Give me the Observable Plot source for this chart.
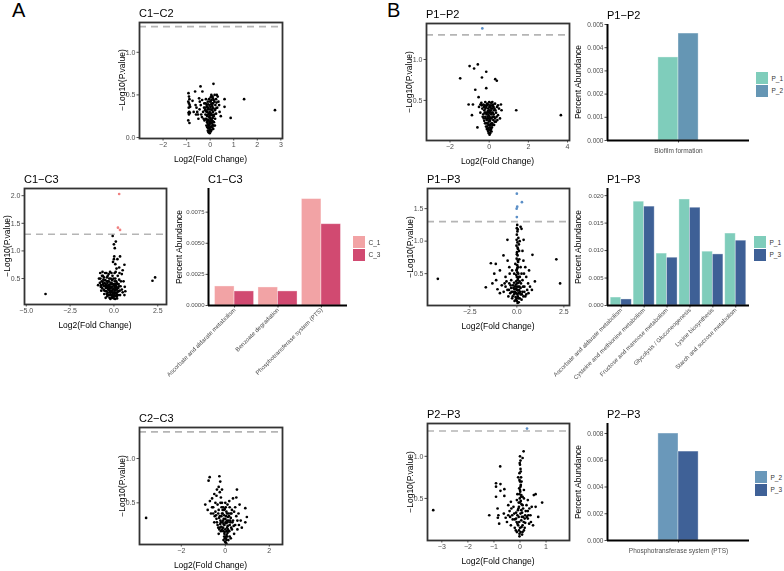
<!DOCTYPE html>
<html><head><meta charset="utf-8">
<script src="https://cdn.jsdelivr.net/npm/d3@7"></script>
<script src="https://cdn.jsdelivr.net/npm/@observablehq/plot@0.6"></script>
<style>
body{margin:0;background:#fff;}
#root{position:relative;width:784px;height:571px;overflow:hidden;background:#fff;font-family:"Liberation Sans",Arial,sans-serif;}
.t{position:absolute;white-space:nowrap;line-height:1;}
#root svg{position:absolute;will-change:transform;}
#root svg text{-webkit-font-smoothing:antialiased;}
</style></head><body><div id="root"></div>
<script>
// ---------- DATA ----------
const sigLine = 1.30103;
const c1c2Points = [[-0.92,0.52],[-0.9,0.48],[-0.88,0.45],[-0.93,0.42],[-0.9,0.4],[-0.87,0.38],[-0.91,0.35],[-0.89,0.3],[-0.92,0.29],[-0.86,0.29],[-0.9,0.27],[-0.93,0.2],[-0.88,0.17],[-0.85,0.36],
[-0.64,0.54],[-0.41,0.6],[-0.33,0.54],[-0.34,0.44],[-0.55,0.3],[-0.6,0.27],[-0.45,0.33],[-0.5,0.22],[-0.4,0.38],[-0.3,0.3],[-0.25,0.4],[-0.38,0.27],[-0.28,0.22],[-0.62,0.38],[-0.47,0.46],[-0.2,0.35],[-0.18,0.45],
[-0.15,0.3],[-0.12,0.25],[-0.1,0.2],[-0.08,0.15],[-0.05,0.12],[-0.1,0.08],[-0.07,0.06],[-0.02,0.1],[0,0.18],[0.02,0.22],[0.05,0.28],[0.03,0.33],[-0.03,0.38],[0,0.42],[0.02,0.47],[0.05,0.5],[-0.05,0.45],[0.08,0.4],[0.1,0.35],[0.12,0.3],[0.15,0.25],[0.08,0.2],[0.1,0.15],[0.04,0.13],[-0.13,0.18],[-0.18,0.22],[-0.2,0.27],[-0.22,0.32],[-0.15,0.38],[-0.1,0.42],[-0.08,0.35],[-0.06,0.28],[-0.04,0.24],[-0.02,0.3],[0.01,0.36],[0.06,0.44],[0.12,0.46],[0.18,0.42],[0.22,0.38],[0.25,0.45],[0.28,0.5],[0.2,0.32],[0.16,0.18],[0.13,0.1],[0.06,0.09],[-0.12,0.12],[-0.16,0.14],[-0.09,0.27],[-0.01,0.16],[0.03,0.07],[0.3,0.35],[0.35,0.42],[0.25,0.28],[0.19,0.5],[0.1,0.48],[-0.11,0.33],[-0.14,0.26],[0.07,0.17],[0.11,0.23],[-0.07,0.21],[0,0.26],[0.04,0.39],
[-0.14,0.21],[-0.11,0.17],[-0.06,0.14],[-0.03,0.19],[0.01,0.23],[0.04,0.27],[0.07,0.32],[0.09,0.26],[0.11,0.19],[0.14,0.14],[-0.09,0.11],[-0.04,0.08],[0.02,0.12],[0.05,0.2],[-0.01,0.29],[-0.05,0.33],[-0.09,0.39],[0.03,0.43],[0.09,0.37],[0.14,0.34],[0.17,0.27],[0.21,0.22],[0.24,0.34],[-0.17,0.31],[-0.13,0.36],[-0.19,0.4],[0.06,0.48],[-0.02,0.05],[0.0,0.09],[0.08,0.12],[-0.12,0.3],[0.15,0.44],[0.27,0.41],[0.32,0.48],[-0.24,0.2],[-0.26,0.35],[-0.35,0.24],[-0.44,0.42],[-0.52,0.27],[-0.58,0.35],[-0.7,0.3],[-0.75,0.43],[0.38,0.38],[0.2,0.14],[0.12,0.4],
[0.14,0.63],[0.61,0.45],[0.61,0.36],[0.87,0.23],[1.44,0.45],[2.75,0.32],[0.4,0.3],[0.45,0.25]];
const c1c2Sig = [];

const c1c3Points = [[-3.9,0.22],[2.2,0.46],[2.35,0.52],
[-0.07,1.27],[0.11,1.17],[0.0,1.12],[0.05,1.05],[0.02,0.9],[0.0,0.85],[-0.05,0.8],[0.08,0.76],[0.2,0.85],[0.35,0.9],[0.6,0.75],[0.5,0.65],[0.45,0.58],[0.3,0.7],[0.15,0.68],[0.1,0.62],
[-0.85,0.5],[-0.8,0.42],[-0.75,0.35],[-0.72,0.28],[-0.68,0.55],[-0.65,0.62],[-0.6,0.48],[-0.58,0.3],[-0.55,0.22],[-0.5,0.6],[-0.48,0.4],[-0.45,0.33],[-0.42,0.27],[-0.4,0.52],[-0.38,0.18],[-0.35,0.45],[-0.32,0.38],[-0.3,0.58],[-0.28,0.3],[-0.25,0.25],[-0.22,0.2],[-0.2,0.42],[-0.18,0.5],[-0.15,0.35],[-0.12,0.28],[-0.1,0.15],[-0.08,0.55],[-0.05,0.4],[-0.03,0.32],[0,0.25],[0.02,0.18],[0.05,0.45],[0.08,0.5],[0.1,0.38],[0.12,0.3],[0.15,0.22],[0.18,0.14],[0.2,0.4],[0.22,0.55],[0.25,0.33],[0.28,0.27],[0.3,0.48],[0.35,0.2],[0.38,0.36],[0.4,0.45],[0.45,0.3],[0.5,0.25],[0.55,0.45],[0.6,0.2],[0.65,0.27],[0.62,0.35],[-0.62,0.4],[-0.52,0.36],[-0.43,0.6],[-0.36,0.24],[-0.27,0.5],[-0.17,0.27],[-0.07,0.2],[0.03,0.35],[0.13,0.45],[0.23,0.2],[-0.7,0.45],[-0.78,0.6],[-0.9,0.38],[-0.47,0.15],[-0.2,0.13],[0.07,0.13],[-0.33,0.3],[-0.23,0.35],[-0.13,0.42],[-0.02,0.5],[0.17,0.3],[-0.57,0.52],[-0.67,0.33],[0.27,0.4],[0.32,0.6],[0.04,0.6],[-0.14,0.6],[-0.4,0.35],[-0.1,0.47],
[-0.64,0.44],[-0.59,0.37],[-0.54,0.28],[-0.49,0.47],[-0.44,0.38],[-0.41,0.22],[-0.37,0.42],[-0.34,0.33],[-0.31,0.2],[-0.29,0.45],[-0.26,0.38],[-0.24,0.28],[-0.21,0.32],[-0.19,0.24],[-0.16,0.4],[-0.14,0.2],[-0.11,0.35],[-0.09,0.25],[-0.06,0.3],[-0.04,0.18],[-0.01,0.38],[0.01,0.3],[0.04,0.22],[0.06,0.28],[0.09,0.33],[0.11,0.24],[0.14,0.35],[0.16,0.18],[0.19,0.25],[0.21,0.33],[0.24,0.27],[0.29,0.36],[0.33,0.28],[-0.73,0.38],[-0.77,0.5],[-0.63,0.55],[-0.53,0.42],[-0.46,0.27],[-0.39,0.45],[-0.3,0.35],[-0.18,0.33],[-0.05,0.23],[0.07,0.4],[0.16,0.42],[-0.25,0.15],[-0.12,0.16],[0.0,0.14],[0.12,0.18],[-0.35,0.55],[-0.22,0.62]];
const c1c3Sig = [[0.3,2.03],[0.23,1.42],[0.35,1.38]];

const c2c3Points = [[-3.6,0.33],
[-0.71,0.79],[-0.27,0.8],[-0.76,0.75],[-0.23,0.74],[0.53,0.65],[0.5,0.56],[-0.91,0.48],[0.91,0.44],[0.98,0.34],[0.91,0.28],[-0.3,0.68],[-0.25,0.62],[-0.5,0.6],[-0.6,0.55],[-0.7,0.52],[-0.4,0.58],[-0.2,0.56],[-0.15,0.5],[-0.55,0.45],[-0.45,0.5],[-0.35,0.48],[-0.8,0.42],[-0.65,0.38],[-0.3,0.42],[-0.1,0.45],[0.1,0.48],[0.2,0.45],[0.3,0.42],[0.4,0.4],[0.5,0.35],[0.6,0.38],[0.7,0.3],[0.75,0.22],[0.55,0.2],[0.45,0.25],[0.35,0.3],[0.25,0.33],[0.15,0.38],[0.05,0.4],[-0.05,0.36],[-0.15,0.38],[-0.25,0.35],[-0.4,0.32],[-0.5,0.28],[-0.35,0.25],[-0.2,0.28],[-0.1,0.3],[0,0.32],[0.1,0.28],[0.2,0.25],[0.3,0.2],[0.4,0.15],[0.2,0.12],[0.1,0.16],[0,0.2],[-0.1,0.22],[-0.2,0.18],[-0.3,0.15],[-0.05,0.12],[0.05,0.08],[0.02,0.05],[-0.02,0.1],[0.08,0.22],[-0.08,0.26],[0.12,0.34],[-0.12,0.42],[0,0.5],[0.18,0.52],[-0.45,0.4],[-0.6,0.45],[0.65,0.48],[0.35,0.55],[-0.15,0.65],[0.03,0.27],[-0.03,0.17],[0.15,0.18],[0.25,0.1],[-0.25,0.22],[0.45,0.45],[-0.38,0.65],[0.28,0.38],[-0.02,0.43],[0.06,0.14],[0.22,0.3],
[-0.32,0.38],[-0.28,0.33],[-0.22,0.3],[-0.18,0.35],[-0.13,0.28],[-0.07,0.32],[-0.04,0.25],[0.01,0.28],[0.04,0.35],[0.07,0.3],[0.11,0.24],[0.14,0.3],[0.17,0.35],[0.23,0.28],[0.27,0.22],[0.18,0.18],[0.12,0.2],[0.06,0.18],[0.01,0.12],[-0.04,0.15],[-0.09,0.18],[-0.14,0.2],[-0.18,0.23],[-0.23,0.26],[-0.27,0.2],[-0.32,0.22],[-0.38,0.28],[-0.42,0.36],[-0.08,0.08],[0.03,0.1],[0.09,0.12],[0.14,0.08],[-0.01,0.06],[0.05,0.04],[-0.06,0.42],[0.02,0.45],[0.08,0.38],[-0.12,0.38],[-0.17,0.45],[-0.22,0.5],[0.24,0.38],[0.32,0.28],[0.38,0.24],[-0.48,0.35],[-0.55,0.38],[0.55,0.3],[0.62,0.25]];
const c2c3Sig = [];

const p1p2Points = [[-1.48,0.77],[-1.0,0.92],[-0.77,0.89],[-0.58,0.94],[-0.15,0.85],[-0.37,0.78],[0.31,0.76],[0.39,0.74],[-0.71,0.63],[-0.15,0.65],[-0.54,0.54],[-1.05,0.45],[-0.83,0.45],[-0.88,0.32],[-0.6,0.17],[1.38,0.38],[0.63,0.38],[0.55,0.28],[3.66,0.32],
[-0.4,0.47],[-0.3,0.45],[-0.2,0.48],[-0.1,0.46],[0,0.48],[0.1,0.47],[0.2,0.45],[0.3,0.46],[0.4,0.42],[-0.35,0.4],[-0.25,0.38],[-0.15,0.42],[-0.05,0.4],[0.05,0.43],[0.15,0.4],[0.25,0.38],[0.35,0.35],[0.45,0.32],[-0.3,0.33],[-0.2,0.3],[-0.1,0.35],[0,0.38],[0.1,0.33],[0.2,0.3],[0.3,0.28],[-0.25,0.25],[-0.15,0.22],[-0.05,0.28],[0.05,0.25],[0.15,0.22],[0.25,0.2],[-0.1,0.18],[0,0.2],[0.1,0.15],[-0.05,0.12],[0.05,0.1],[0,0.14],[0.02,0.3],[-0.02,0.24],[0.08,0.2],[-0.08,0.3],[0.12,0.28],[-0.12,0.26],[0.18,0.35],[-0.18,0.35],[0.22,0.42],[-0.22,0.44],[0.03,0.35],[-0.03,0.45],[0.07,0.41],[0.28,0.24],[-0.28,0.28],[0.12,0.12],[-0.12,0.15],[0.5,0.4],[-0.45,0.35],[0.04,0.17],[-0.04,0.2],[0.16,0.48],[0.38,0.3],
[-0.27,0.42],[-0.23,0.35],[-0.17,0.28],[-0.13,0.33],[-0.07,0.37],[-0.03,0.32],[0.01,0.42],[0.04,0.37],[0.09,0.38],[0.13,0.35],[0.17,0.3],[0.21,0.26],[0.23,0.33],[0.27,0.4],[0.32,0.38],[-0.21,0.22],[-0.16,0.18],[-0.09,0.22],[-0.04,0.16],[0.01,0.26],[0.06,0.28],[0.11,0.22],[0.14,0.17],[0.19,0.2],[0.02,0.08],[-0.02,0.1],[0.07,0.13],[-0.07,0.14],[0.03,0.2],[-0.01,0.35],[0.09,0.44],[-0.11,0.44],[-0.19,0.4],[0.19,0.43],[0.25,0.3],[-0.33,0.3],[0.34,0.24],[0.42,0.26],[-0.38,0.44],[-0.45,0.45],[0.45,0.44],[0.6,0.45],[-0.52,0.42]];
const p1p2Sig = [[-0.35,1.38]];

const p1p3Points = [[-4.2,0.42],[2.1,0.72],[2.3,0.35],
[0.02,1.25],[0.05,1.18],[0,1.1],[0.08,1.05],[0.03,0.98],[-0.02,0.93],[0.06,0.88],[0.01,0.83],[0.04,0.78],[-0.01,0.73],[0.07,0.68],[0.02,0.63],[0.05,0.6],[0,0.56],[0.03,0.52],[0.08,0.5],[-0.03,0.48],[0.1,0.45],[0.06,0.42],[0.11,0.95],[0.13,0.72],
[-0.5,1.02],[0.36,1.02],[0.25,1.19],[0.2,1.22],[0.83,0.79],[-1.12,0.65],[-1.38,0.66],[-0.71,0.78],[-0.49,0.7],[0.65,0.55],[0.96,0.38],[-1.65,0.29],[-1.03,0.26],[-1.2,0.5],[0.45,0.6],[-0.9,0.55],[-0.6,0.45],[0.5,0.45],[0.3,0.85],[0.25,0.5],[-1.3,0.35],[-0.8,0.32],[0.7,0.3],[0.55,0.25],
[-0.6,0.3],[-0.5,0.25],[-0.4,0.35],[-0.3,0.28],[-0.2,0.22],[-0.1,0.3],[0,0.25],[0.1,0.2],[0.2,0.28],[0.3,0.22],[0.4,0.3],[0.5,0.18],[-0.45,0.15],[-0.35,0.2],[-0.25,0.12],[-0.15,0.18],[-0.05,0.1],[0.05,0.15],[0.15,0.12],[0.25,0.1],[0.35,0.15],[-0.3,0.4],[-0.15,0.36],[0.15,0.38],[0.3,0.4],[-0.08,0.2],[0.08,0.3],[0.02,0.35],[-0.02,0.2],[0.12,0.25],[-0.12,0.26],[0,0.08],[0.04,0.05],[-0.2,0.32],[0.2,0.18],[0.4,0.22],[-0.55,0.38],[0.6,0.35],[-0.7,0.22],[-0.38,0.5],
[0.0,1.2],[0.03,1.15],[-0.01,1.02],[0.04,0.9],[0.0,0.8],[0.05,0.7],[0.02,0.58],[-0.02,0.55],[0.0,0.45],[0.04,0.4],[-0.04,0.38],[0.09,0.36],[0.01,0.3],[-0.06,0.33],[0.06,0.24],[-0.03,0.27],[0.03,0.18],[-0.07,0.14],[0.09,0.12],[0.0,0.12],[-0.1,0.22],[0.14,0.3],[0.18,0.22],[0.22,0.35],[-0.18,0.28],[-0.22,0.15],[-0.28,0.22],[0.27,0.18],[0.33,0.3],[-0.33,0.32],[0.45,0.15],[-0.42,0.25],[0.1,0.06],[-0.12,0.08],[0.16,0.45],[-0.14,0.5],[0.2,0.6],[-0.25,0.55],[0.12,0.85],[-0.08,0.65],[0.15,1.0],[-0.4,0.6],[0.38,0.5],[-0.65,0.35],[0.62,0.2],[-0.9,0.2],[0.8,0.25],[-1.1,0.4],[0.35,0.7]];
const p1p3Sig = [[0,1.73],[0.27,1.6],[0.02,1.53],[-0.01,1.5],[0,1.37]];

const p2p3Points = [[-3.33,0.36],[0.14,1.06],[0.1,0.98],[-0.76,0.88],
[0,0.9],[0.02,0.85],[-0.02,0.8],[0.04,0.75],[0,0.7],[0.03,0.66],[-0.03,0.62],[0.01,0.58],[0.05,0.54],[-0.01,0.5],[0.03,0.47],[0.06,0.43],[-0.04,0.4],
[-0.92,0.68],[-0.75,0.67],[-0.92,0.64],[-0.6,0.61],[-0.75,0.59],[-0.92,0.52],[-0.6,0.53],[-0.35,0.46],[0.53,0.54],[0.6,0.55],[0.85,0.45],[-0.86,0.38],[-0.83,0.3],[-1.18,0.3],[-0.85,0.27],[-0.55,0.27],[-0.8,0.2],[0.5,0.18],[0.3,0.26],[0.2,0.21],
[-0.4,0.35],[-0.3,0.3],[-0.2,0.25],[-0.1,0.2],[0,0.15],[0.1,0.18],[0.2,0.3],[0.3,0.35],[-0.25,0.4],[-0.15,0.33],[-0.05,0.28],[0.05,0.24],[0.15,0.12],[-0.12,0.1],[-0.02,0.08],[0.08,0.07],[0.12,0.38],[0.25,0.42],[-0.2,0.15],[0.18,0.26],[-0.08,0.36],[0.4,0.3],[-0.5,0.22],[0.02,0.32],[-0.03,0.22],[0.07,0.28],[-0.15,0.26],[0.35,0.2],[-0.35,0.18],[0.45,0.4],[0.1,0.42],[-0.45,0.42],[0.15,0.5],[-0.12,0.48],
[0.0,1.0],[0.02,0.95],[-0.01,0.92],[0.03,0.82],[-0.02,0.72],[0.02,0.64],[0.0,0.6],[-0.02,0.55],[0.04,0.52],[0.0,0.45],[-0.06,0.38],[0.08,0.33],[-0.1,0.3],[0.12,0.28],[-0.13,0.22],[0.14,0.22],[-0.07,0.18],[0.06,0.16],[-0.04,0.12],[0.02,0.1],[-0.16,0.12],[0.18,0.15],[0.22,0.35],[-0.22,0.32],[0.26,0.28],[-0.28,0.25],[0.32,0.3],[-0.33,0.38],[0.36,0.38],[-0.38,0.28],[0.1,0.1],[-0.02,0.05],[0.05,0.36],[-0.05,0.45],[0.1,0.52],[-0.1,0.55],[0.15,0.6],[0.06,0.7],[-0.07,0.75],[0.42,0.22],[-0.45,0.3],[0.6,0.4],[0.7,0.28],[-0.62,0.32],[0.3,0.48]];
const p2p3Sig = [[0.27,1.33]];

// bar charts
const c1c3Cats = ["Ascorbate and aldarate metabolism","Benzoate degradation","Phosphotransferase system (PTS)"];
const c1c3Series = ["C_1","C_3"];
const c1c3C1 = [0.00153,0.00145,0.00855];
const c1c3C3 = [0.00113,0.00113,0.00653];

const p1p2Cats = ["Biofilm formation"];
const p1p2Series = ["P_1","P_2"];
const p1p2P1 = [0.00358];
const p1p2P2 = [0.00461];

const p1p3Cats = ["Ascorbate and aldarate metabolism","Cysteine and methionine metabolism","Fructose and mannose metabolism","Glycolysis / Gluconeogenesis","Lysine biosynthesis","Starch and sucrose metabolism"];
const p1p3Series = ["P_1","P_3"];
const p1p3P1 = [0.00145,0.0189,0.00945,0.0193,0.0098,0.0131];
const p1p3P3 = [0.0011,0.0180,0.0087,0.0178,0.0093,0.0118];

const p2p3Cats = ["Phosphotransferase system (PTS)"];
const p2p3Series = ["P_2","P_3"];
const p2p3P2 = [0.0080];
const p2p3P3 = [0.00665];

// ---------- DRAW ----------
const root = document.getElementById("root");
const FONT = '"Liberation Sans", Arial, sans-serif';
function text(str, x, y, size, anchor, opts={}) {
  const d = document.createElement("div");
  d.className = "t";
  d.textContent = str;
  d.style.left = x + "px"; d.style.top = y + "px";
  d.style.fontSize = size + "px";
  d.style.color = opts.color || "#000";
  let tr = anchor === "middle" ? "translate(-50%,-50%)" : "translate(0,-50%)";
  if (opts.rotate) tr += ` rotate(${opts.rotate}deg)`;
  d.style.transform = tr;
  root.appendChild(d);
}
function place(svg, x, y) { svg.style.left = x + "px"; svg.style.top = y + "px"; root.appendChild(svg); }

function volcano(cfg) {
  const [fx0, fx1, fy0, fy1] = cfg.frame;
  const ml = 30, mt = 4, mr = 4, mb = 16;
  const chart = Plot.plot({
    width: fx1 - fx0 + ml + mr, height: fy1 - fy0 + mt + mb,
    marginLeft: ml, marginRight: mr, marginTop: mt, marginBottom: mb,
    style: {fontSize: "7px", fontFamily: FONT, color: "#4d4d4d", background: "transparent", overflow: "visible"},
    x: {domain: cfg.xd, ticks: cfg.xt, tickFormat: cfg.xf, tickSize: 2.5, tickPadding: 1.5, label: null},
    y: {domain: cfg.yd, ticks: cfg.yt, tickFormat: d3.format(".1f"), tickSize: 2.5, tickPadding: 1.5, label: null},
    marks: [
      Plot.ruleY([sigLine], {stroke: "#b5b5b5", strokeWidth: 1.6, strokeDasharray: "7,5"}),
      Plot.dot(cfg.pts, {x: d => d[0], y: d => d[1], r: 1.35, fill: "#000", stroke: "none"}),
      Plot.dot(cfg.sig, {x: d => d[0], y: d => d[1], r: 1.35, fill: cfg.sigColor, stroke: "none"}),
      Plot.frame({stroke: "#333", strokeWidth: 1.8})
    ]
  });
  place(chart, fx0 - ml, fy0 - mt);
  text(cfg.title, fx0, fy0 - 9.5, 11, "start");
  text("Log2(Fold Change)", (fx0 + fx1) / 2, fy1 + 20.5, 8.5, "middle");
  text("\u2212Log10(P.value)", fx0 - 17, (fy0 + fy1) / 2, 8.5, "middle", {rotate: -90});
}

function bars(cfg) {
  const [ax0, ax1, ay0, ay1] = cfg.frame;
  const n = cfg.cats.length;
  const ml = 36, mt = 4, mr = 4, mb = cfg.rotate ? 80 : 22;
  const gw = cfg.gw;
  const data = cfg.cats.flatMap((c, i) => cfg.series.map((s, j) => ({i, j, s, v: cfg.values[j][i]})));
  const chart = Plot.plot({
    width: ax1 - ax0 + ml + mr, height: ay1 - ay0 + mt + mb,
    marginLeft: ml, marginRight: mr, marginTop: mt, marginBottom: mb,
    style: {fontSize: cfg.rotate ? "6px" : "6.5px", fontFamily: FONT, color: "#4d4d4d", background: "transparent", overflow: "visible"},
    x: {domain: [-0.6, n - 0.4], ticks: d3.range(n), tickFormat: i => cfg.cats[i], tickSize: 2.5, tickPadding: cfg.rotate ? 1 : 5, tickRotate: cfg.rotate ? -45 : 0, label: null},
    y: {domain: cfg.yd, ticks: cfg.yt, tickFormat: d3.format(cfg.yf), tickSize: 2.5, tickPadding: 1.5, label: null},
    color: {domain: cfg.series, range: cfg.colors},
    marks: [
      Plot.rectY(data, {x1: d => d.i - gw / 2 + d.j * gw / 2, x2: d => d.i + d.j * gw / 2, y: "v", fill: "s", stroke: "#ffffff", strokeOpacity: 0.45, strokeWidth: 0.8}),
      Plot.ruleY([0], {stroke: "#000", strokeWidth: 2}),
      Plot.ruleX([-0.6], {stroke: "#000", strokeWidth: 2})
    ]
  });
  place(chart, ax0 - ml, ay0 - mt);
  text(cfg.title, ax0, ay0 - 9.5, 11, "start");
  text("Percent Abundance", ax0 - 29, (ay0 + ay1) / 2, 8.5, "middle", {rotate: -90});
  const [lx, ly] = cfg.legend;
  cfg.series.forEach((s, j) => {
    const sq = document.createElement("div");
    sq.style.cssText = `position:absolute;left:${lx}px;top:${ly + j * 12.5}px;width:12px;height:12px;background:${cfg.colors[j]};outline:0.5px solid rgba(255,255,255,0.6);`;
    root.appendChild(sq);
    text(s, lx + 15.5, ly + j * 12.5 + 6.5, 6.5, "start", {color: "#333"});
  });
}

text("A", 12, 10, 20, "start");
text("B", 387, 10, 20, "start");

volcano({title: "C1\u2212C2", frame: [139, 282, 22, 138], xd: [-3.0, 3.07], yd: [-0.012, 1.35], xt: [-2, -1, 0, 1, 2, 3], xf: d3.format("d"), yt: [0, 0.5, 1], pts: c1c2Points, sig: c1c2Sig, sigColor: "#f08080"});
volcano({title: "C1\u2212C3", frame: [24, 166, 188, 304], xd: [-5.1, 3.0], yd: [0.03, 2.13], xt: [-5, -2.5, 0, 2.5], xf: d3.format(".1f"), yt: [0.5, 1, 1.5, 2], pts: c1c3Points, sig: c1c3Sig, sigColor: "#f08080"});
volcano({title: "C2\u2212C3", frame: [139, 282, 427, 544], xd: [-3.9, 2.6], yd: [0.03, 1.35], xt: [-2, 0, 2], xf: d3.format("d"), yt: [0.5, 1], pts: c2c3Points, sig: c2c3Sig, sigColor: "#f08080"});
volcano({title: "P1\u2212P2", frame: [426, 569, 23, 140], xd: [-3.2, 4.1], yd: [0.01, 1.44], xt: [-2, 0, 2, 4], xf: d3.format("d"), yt: [0.5, 1], pts: p1p2Points, sig: p1p2Sig, sigColor: "#5b8fc7"});
volcano({title: "P1\u2212P3", frame: [427, 569, 188, 305], xd: [-4.75, 2.8], yd: [0.01, 1.81], xt: [-2.5, 0, 2.5], xf: d3.format(".1f"), yt: [0.5, 1, 1.5], pts: p1p3Points, sig: p1p3Sig, sigColor: "#5b8fc7"});
volcano({title: "P2\u2212P3", frame: [427, 569, 423, 540], xd: [-3.55, 1.9], yd: [0.0, 1.39], xt: [-3, -2, -1, 0, 1], xf: d3.format("d"), yt: [0.5, 1], pts: p2p3Points, sig: p2p3Sig, sigColor: "#5b8fc7"});

bars({title: "C1\u2212C3", frame: [208, 347, 188, 305], cats: c1c3Cats, series: c1c3Series, values: [c1c3C1, c1c3C3], colors: ["#f2a3a5", "#d14a71"], yd: [0, 0.0094], yt: [0, 0.0025, 0.005, 0.0075], yf: ".4f", gw: 0.9, rotate: true, legend: [353, 236]});
bars({title: "P1\u2212P2", frame: [607, 749, 24, 140], cats: p1p2Cats, series: p1p2Series, values: [p1p2P1, p1p2P2], colors: ["#7fcdbb", "#6596b4"], yd: [0, 0.005], yt: [0, 0.001, 0.002, 0.003, 0.004, 0.005], yf: ".3f", gw: 0.34, rotate: false, legend: [756, 72]});
bars({title: "P1\u2212P3", frame: [607, 749, 188, 305], cats: p1p3Cats, series: p1p3Series, values: [p1p3P1, p1p3P3], colors: ["#7fcdbb", "#3e6096"], yd: [0, 0.0213], yt: [0, 0.005, 0.01, 0.015, 0.02], yf: ".3f", gw: 0.92, rotate: true, legend: [754, 236]});
bars({title: "P2\u2212P3", frame: [607, 749, 423, 540], cats: p2p3Cats, series: p2p3Series, values: [p2p3P2, p2p3P3], colors: ["#6a98ba", "#3f6197"], yd: [0, 0.00875], yt: [0, 0.002, 0.004, 0.006, 0.008], yf: ".3f", gw: 0.34, rotate: false, legend: [755, 471]});
</script></body></html>
